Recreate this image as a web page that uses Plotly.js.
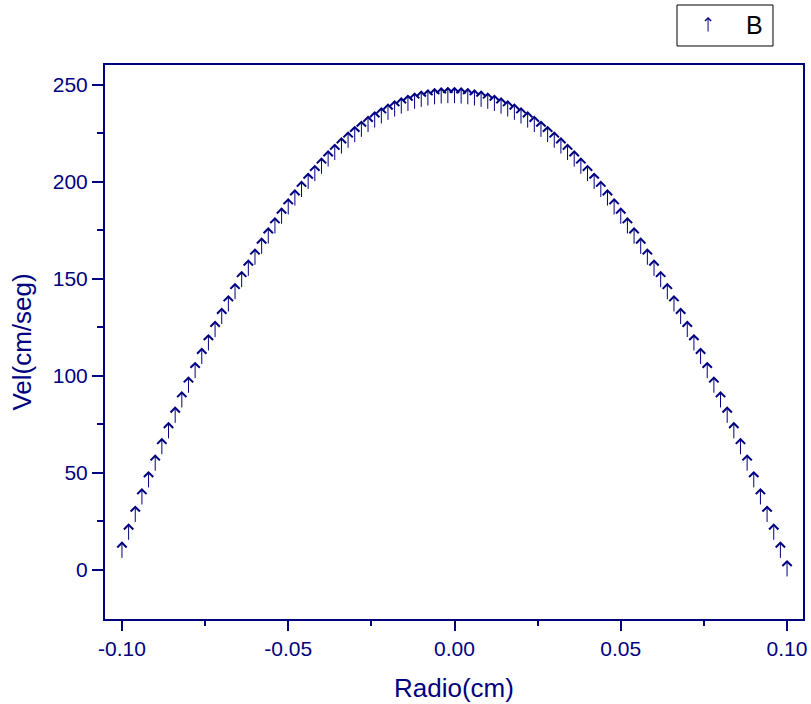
<!DOCTYPE html>
<html>
<head>
<meta charset="utf-8">
<script src="https://cdn.plot.ly/plotly-3.0.1.min.js"></script>
<style>html,body{margin:0;padding:0;background:#fff;}#chart{width:811px;height:704px;}</style>
</head>
<body>
<div id="chart"></div>
<script>
// Radio (cm)
const radio = [
-0.100,-0.098,-0.096,-0.094,-0.092,-0.090,-0.088,-0.086,-0.084,-0.082,
-0.080,-0.078,-0.076,-0.074,-0.072,-0.070,-0.068,-0.066,-0.064,-0.062,
-0.060,-0.058,-0.056,-0.054,-0.052,-0.050,-0.048,-0.046,-0.044,-0.042,
-0.040,-0.038,-0.036,-0.034,-0.032,-0.030,-0.028,-0.026,-0.024,-0.022,
-0.020,-0.018,-0.016,-0.014,-0.012,-0.010,-0.008,-0.006,-0.004,-0.002,
0.000,0.002,0.004,0.006,0.008,0.010,0.012,0.014,0.016,0.018,
0.020,0.022,0.024,0.026,0.028,0.030,0.032,0.034,0.036,0.038,
0.040,0.042,0.044,0.046,0.048,0.050,0.052,0.054,0.056,0.058,
0.060,0.062,0.064,0.066,0.068,0.070,0.072,0.074,0.076,0.078,
0.080,0.082,0.084,0.086,0.088,0.090,0.092,0.094,0.096,0.098,
0.100];
// Vel (cm/seg), series B
const velB = [
10.1,19.4,28.6,37.6,46.4,55.0,63.5,71.7,79.7,87.6,
95.2,102.7,110.0,117.0,123.9,130.6,137.1,143.4,149.6,155.5,
161.2,166.8,172.1,177.3,182.3,187.1,191.7,196.1,200.3,204.3,
208.1,211.8,215.2,218.5,221.5,224.4,227.1,229.6,231.9,234.0,
235.9,237.6,239.1,240.5,241.6,242.6,243.3,243.9,244.3,244.5,
244.5,244.3,243.9,243.3,242.6,241.6,240.5,239.1,237.6,235.9,
234.0,231.9,229.6,227.1,224.4,221.5,218.5,215.2,211.8,208.1,
204.3,200.3,196.1,191.7,187.1,182.3,177.3,172.1,166.8,161.2,
155.5,149.6,143.4,137.1,130.6,123.9,117.0,110.0,102.7,95.2,
87.6,79.7,71.7,63.5,55.0,46.4,37.6,28.6,19.4,10.1,
0.5];
const xTicks = [-0.10,-0.05,0.00,0.05,0.10];
const xTickText = ['-0.10','-0.05','0.00','0.05','0.10'];
const yTicks = [0,50,100,150,200,250];
const seriesName = 'B';

const navy = '#000080';
const font = 'Liberation Sans, Arial, sans-serif';

// invisible carrier trace so the axes hold the data
const trace = {
  x: radio, y: velB, mode: 'markers', type: 'scatter',
  marker: {size: 1, color: navy, opacity: 0},
  name: seriesName, showlegend: false, hoverinfo: 'skip'
};

// arrow symbols: one per data point, placed by the axes (data coordinates)
const arrowAnns = radio.map((xv, i) => ({
  xref: 'x', yref: 'y', x: xv, y: velB[i], text: '',
  showarrow: true, arrowhead: 4, arrowsize: 1.8, arrowwidth: 1,
  arrowcolor: navy, ax: 0, ay: 18, axref: 'pixel', ayref: 'pixel',
  yshift: 9, standoff: 0, startstandoff: 0
}));

const layout = {
  width: 811, height: 704,
  margin: {l: 105, r: 8, t: 65, b: 85, pad: 0},
  paper_bgcolor: '#fff', plot_bgcolor: '#fff',
  font: {family: font, color: navy},
  showlegend: false,
  xaxis: {
    range: [-0.1051, 0.1048],
    tickvals: xTicks, ticktext: xTickText,
    ticks: 'outside', ticklen: 10, tickwidth: 2, tickcolor: navy,
    minor: {tickvals: [-0.075,-0.025,0.025,0.075], ticks: 'outside', ticklen: 5, tickwidth: 2, tickcolor: navy},
    showline: true, linewidth: 2, linecolor: navy, mirror: true,
    showgrid: false, zeroline: false,
    tickfont: {family: font, size: 21, color: navy},
    title: {text: 'Radio(cm)', font: {family: font, size: 26, color: navy}, standoff: 20}
  },
  yaxis: {
    range: [-25.3, 260.3],
    tickvals: yTicks,
    ticks: 'outside', ticklen: 11, tickwidth: 2, tickcolor: navy,
    minor: {tickvals: [25,75,125,175,225], ticks: 'outside', ticklen: 6, tickwidth: 2, tickcolor: navy},
    showline: true, linewidth: 2, linecolor: navy, mirror: true,
    showgrid: false, zeroline: false,
    tickfont: {family: font, size: 21, color: navy},
    title: {text: 'Vel(cm/seg)', font: {family: font, size: 26, color: navy}, standoff: 14}
  },
  shapes: [
    {type: 'rect', xref: 'paper', yref: 'paper', x0: 0.8195, x1: 0.957, y0: 1.0343, y1: 1.1083,
     line: {color: '#000', width: 1}, fillcolor: '#fff'}
  ],
  annotations: arrowAnns.concat([
    {xref: 'paper', yref: 'paper', x: 0.864, y: 1.0722, text: '', showarrow: true,
     arrowhead: 4, arrowsize: 1.2, arrowwidth: 1, arrowcolor: navy,
     ax: 0, ay: 16, axref: 'pixel', ayref: 'pixel', yshift: 8, standoff: 0, startstandoff: 0},
    {xref: 'paper', yref: 'paper', x: 0.931, y: 1.0722, text: seriesName, showarrow: false,
     font: {family: font, size: 25, color: '#000'}, xanchor: 'center', yanchor: 'middle'}
  ])
};

Plotly.newPlot('chart', [trace], layout, {displayModeBar: false, staticPlot: true});
</script>
</body>
</html>
